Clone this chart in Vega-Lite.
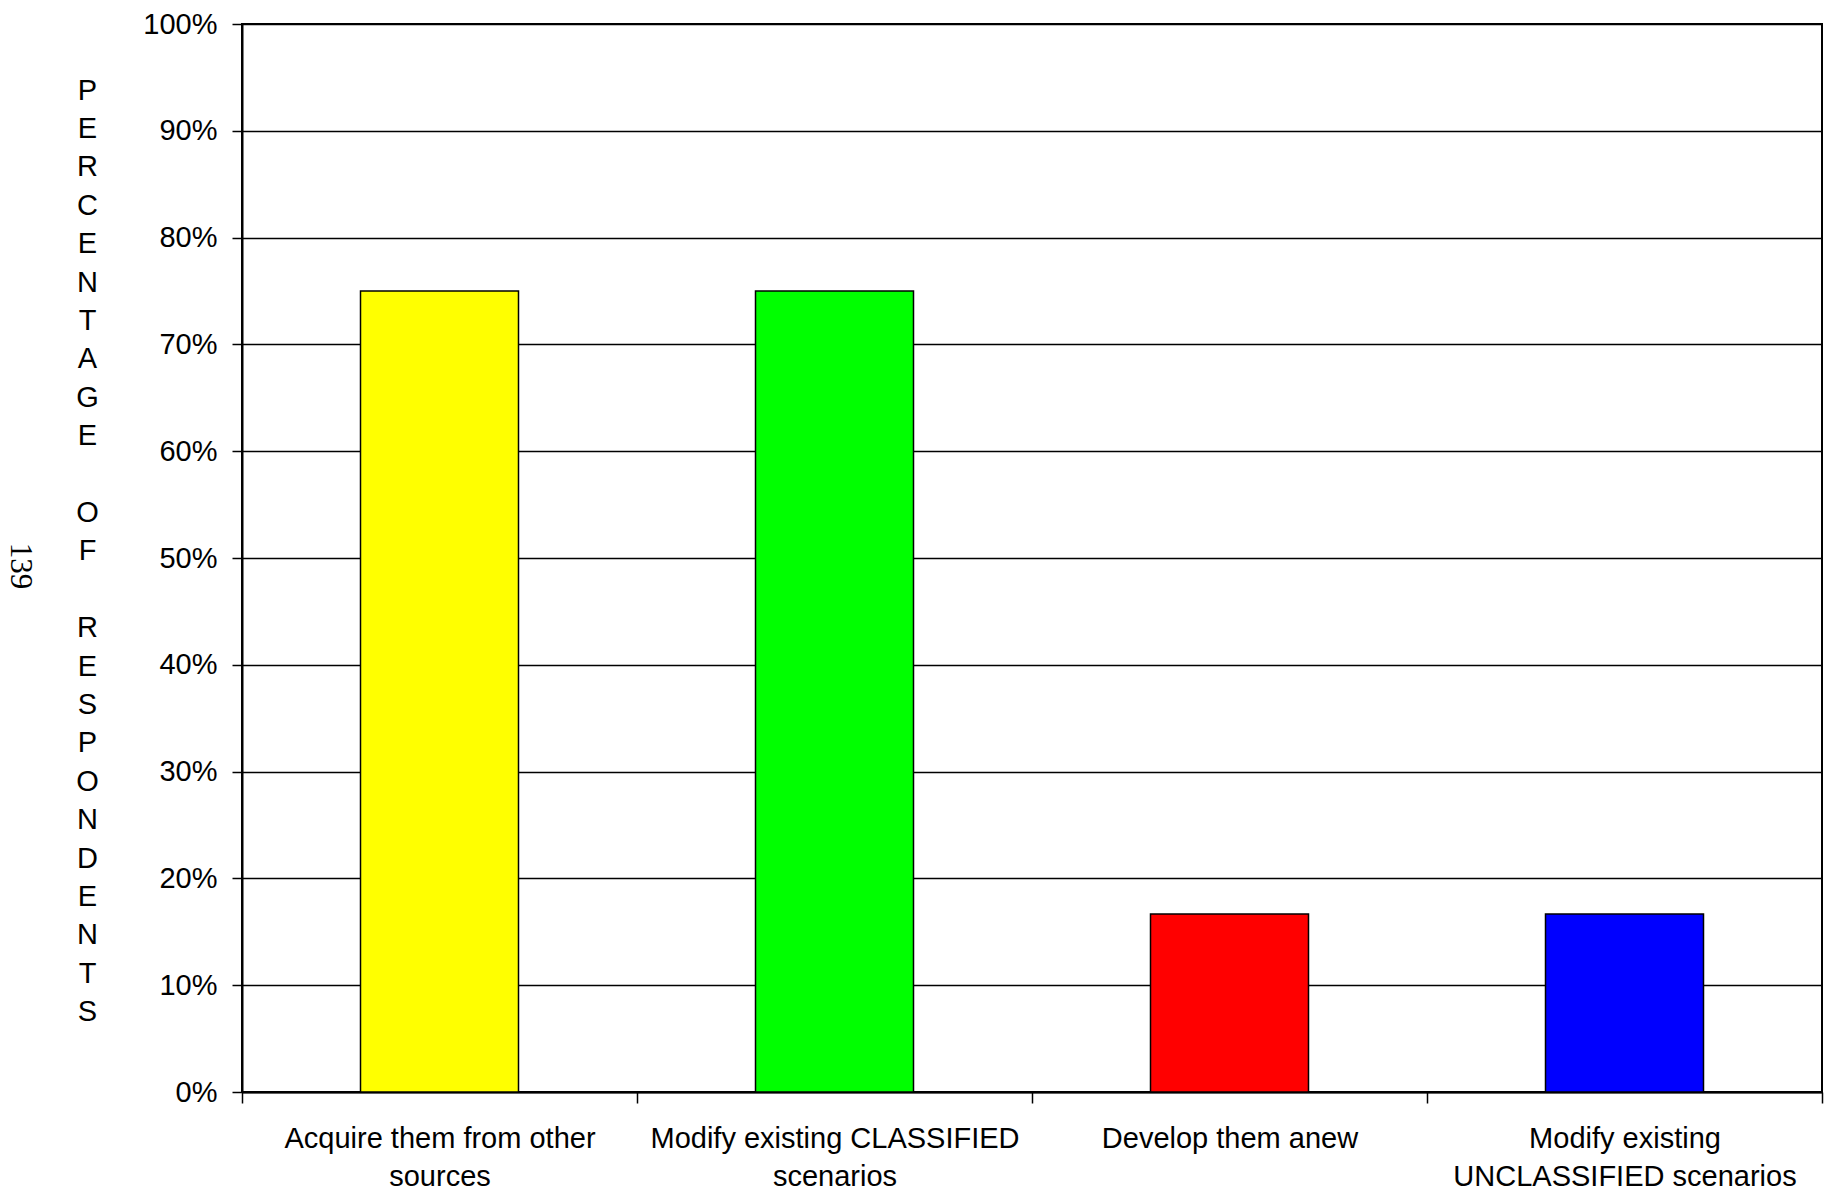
{
  "$schema": "https://vega.github.io/schema/vega-lite/v6.json",
  "width": 1580,
  "height": 1068,
  "autosize": {"type": "none"},
  "padding": {"left": 242, "top": 24, "right": 13, "bottom": 112},
  "background": "white",
  "config": {"view": {"stroke": "black", "strokeWidth": 2}},
  "title": {"text": "139", "orient": "left", "angle": 90, "font": "Liberation Serif", "fontSize": 31, "fontWeight": "normal", "color": "black", "anchor": "middle", "offset": 10, "dx": 8},
  "data": {"values": [
    {"category": "Acquire them from other|sources", "value": 0.75},
    {"category": "Modify existing CLASSIFIED|scenarios", "value": 0.75},
    {"category": "Develop them anew", "value": 0.1667},
    {"category": "Modify existing|UNCLASSIFIED scenarios", "value": 0.1667}
  ]},
  "mark": {"type": "bar", "stroke": "black", "strokeWidth": 1.5, "width": {"band": 0.4}},
  "encoding": {
    "x": {
      "field": "category", "type": "nominal", "sort": null,
      "scale": {"paddingInner": 0, "paddingOuter": 0},
      "axis": {"title": null, "labelAngle": 0, "labelExpr": "split(datum.label, '|')", "labelFont": "Liberation Sans", "labelFontSize": 29, "labelColor": "black", "labelLineHeight": 38.6, "labelPadding": 21, "labelLimit": 0, "tickBand": "extent", "tickSize": 11, "tickColor": "black", "tickWidth": 1.5, "domainColor": "black", "domainWidth": 2, "grid": false}
    },
    "y": {
      "field": "value", "type": "quantitative",
      "scale": {"domain": [0, 1]},
      "axis": {
        "values": [0, 0.1, 0.2, 0.3, 0.4, 0.5, 0.6, 0.7, 0.8, 0.9, 1],
        "format": ".0%",
        "labelFont": "Liberation Sans", "labelFontSize": 29, "labelColor": "black", "labelPadding": 15,
        "tickSize": 10, "tickColor": "black", "tickWidth": 1.5,
        "domainColor": "black", "domainWidth": 2,
        "grid": true, "gridColor": "black", "gridWidth": 1.3, "gridOpacity": 1,
        "title": ["P", "E", "R", "C", "E", "N", "T", "A", "G", "E", "\u200b", "O", "F", "\u200b", "R", "E", "S", "P", "O", "N", "D", "E", "N", "T", "S"],
        "titleAngle": 0, "titleX": -155, "titleY": 75, "titleAlign": "center", "titleBaseline": "alphabetic",
        "titleFont": "Liberation Sans", "titleFontSize": 29, "titleFontWeight": "normal", "titleLineHeight": 38.4, "titleColor": "black"
      }
    },
    "color": {
      "field": "category", "type": "nominal",
      "scale": {"domain": ["Acquire them from other|sources", "Modify existing CLASSIFIED|scenarios", "Develop them anew", "Modify existing|UNCLASSIFIED scenarios"], "range": ["#FFFF00", "#00FF00", "#FF0000", "#0000FF"]},
      "legend": null
    }
  }
}
